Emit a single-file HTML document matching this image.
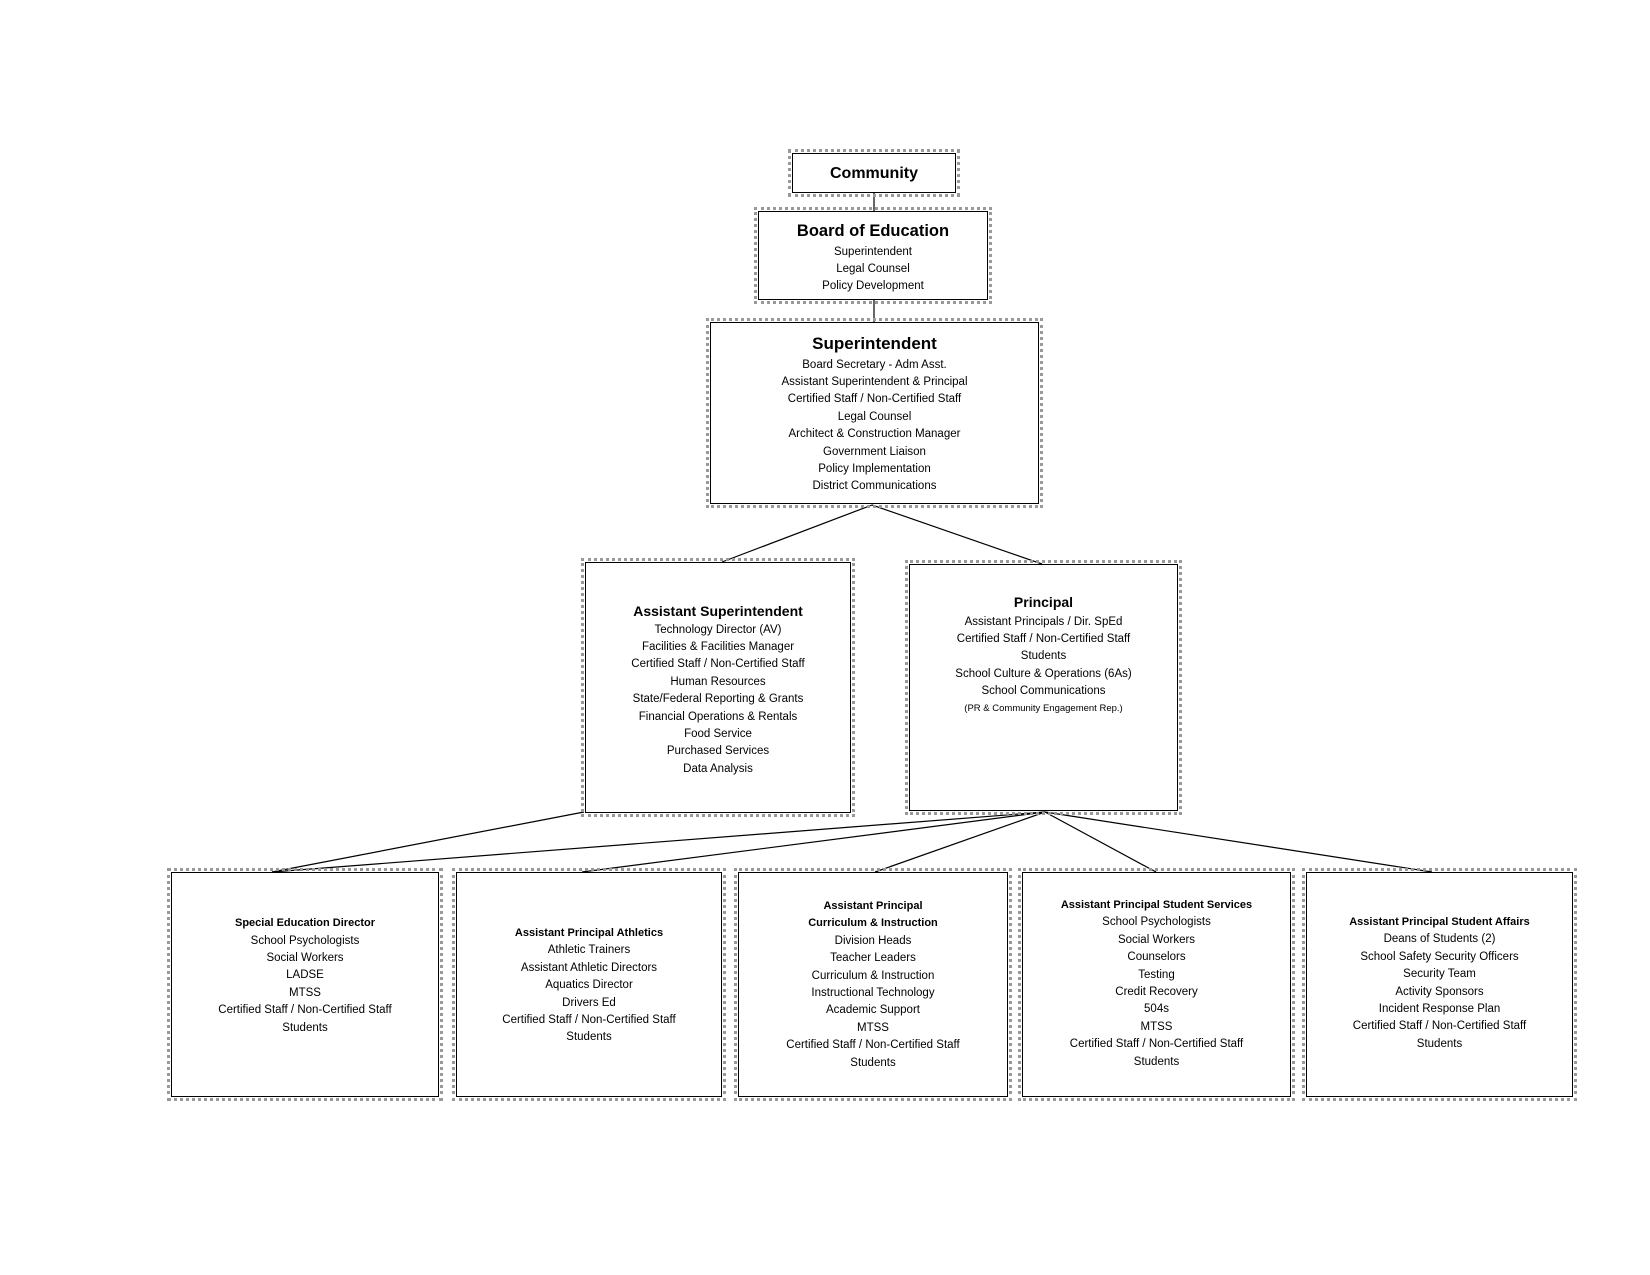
<!DOCTYPE html>
<html><head><meta charset="utf-8"><style>
html,body{margin:0;padding:0;background:#fff;}
body{width:1650px;height:1275px;position:relative;overflow:hidden;font-family:"Liberation Sans",sans-serif;color:#000;}
.b{position:absolute;border:1.5px solid #000;box-sizing:border-box;background:#fff;outline:3px dotted #999;outline-offset:1px;}
.t{position:absolute;text-align:center;font-size:11.5px;line-height:17.4px;white-space:nowrap;}
.t b{display:block;}
svg{position:absolute;left:0;top:0;}
</style></head><body>
<svg width="1650" height="1275">
<g stroke="#000" stroke-width="1.2" fill="none">
<line x1="874" y1="193" x2="874" y2="211"/>
<line x1="874" y1="300" x2="874" y2="322"/>
<line x1="872" y1="505" x2="722" y2="562"/>
<line x1="872" y1="505" x2="1042" y2="564"/>
<line x1="584" y1="812" x2="272" y2="872"/>
<line x1="1045" y1="812" x2="272" y2="872"/>
<line x1="1045" y1="812" x2="582" y2="872"/>
<line x1="1045" y1="812" x2="875" y2="872"/>
<line x1="1045" y1="812" x2="1156" y2="872"/>
<line x1="1045" y1="812" x2="1432" y2="872"/>
</g></svg>

<div class="b" style="left:792px;top:153px;width:164px;height:40px"></div>
<div class="b" style="left:758px;top:211px;width:230px;height:89px"></div>
<div class="b" style="left:710px;top:322px;width:329px;height:182px"></div>
<div class="b" style="left:585px;top:562px;width:266px;height:251px"></div>
<div class="b" style="left:909px;top:564px;width:269px;height:247px"></div>
<div class="b" style="left:171px;top:872px;width:268px;height:225px"></div>
<div class="b" style="left:456px;top:872px;width:266px;height:225px"></div>
<div class="b" style="left:738px;top:872px;width:270px;height:225px"></div>
<div class="b" style="left:1022px;top:872px;width:269px;height:225px"></div>
<div class="b" style="left:1306px;top:872px;width:267px;height:225px"></div>

<div class="t" style="left:792px;width:164px;top:162px;"><b style="font-size:16px;line-height:24px">Community</b></div>

<div class="t" style="left:758px;width:230px;top:219px;"><b style="font-size:16.5px;line-height:24.6px">Board of Education</b>Superintendent<br>Legal Counsel<br>Policy Development</div>

<div class="t" style="left:710px;width:329px;top:332px;"><b style="font-size:17px;line-height:24.6px">Superintendent</b>Board Secretary - Adm Asst.<br>Assistant Superintendent &amp; Principal<br>Certified Staff / Non-Certified Staff<br>Legal Counsel<br>Architect &amp; Construction Manager<br>Government Liaison<br>Policy Implementation<br>District Communications</div>

<div class="t" style="left:585px;width:266px;top:601px;"><b style="font-size:14px;line-height:20.6px">Assistant Superintendent</b>Technology Director (AV)<br>Facilities &amp; Facilities Manager<br>Certified Staff / Non-Certified Staff<br>Human Resources<br>State/Federal Reporting &amp; Grants<br>Financial Operations &amp; Rentals<br>Food Service<br>Purchased Services<br>Data Analysis</div>

<div class="t" style="left:909px;width:269px;top:591px;"><b style="font-size:14px;line-height:22.6px">Principal</b>Assistant Principals / Dir. SpEd<br>Certified Staff / Non-Certified Staff<br>Students<br>School Culture &amp; Operations (6As)<br>School Communications<br><span style="font-size:9.5px;line-height:15px;display:block">(PR &amp; Community Engagement Rep.)</span></div>

<div class="t" style="left:171px;width:268px;top:914px;"><b style="font-size:11px;line-height:18.6px">Special Education Director</b>School Psychologists<br>Social Workers<br>LADSE<br>MTSS<br>Certified Staff / Non-Certified Staff<br>Students</div>

<div class="t" style="left:456px;width:266px;top:924px;"><b style="font-size:11px;line-height:18.4px">Assistant Principal Athletics</b>Athletic Trainers<br>Assistant Athletic Directors<br>Aquatics Director<br>Drivers Ed<br>Certified Staff / Non-Certified Staff<br>Students</div>

<div class="t" style="left:738px;width:270px;top:898px;"><b style="font-size:11px">Assistant Principal</b><b style="font-size:11px">Curriculum &amp; Instruction</b>Division Heads<br>Teacher Leaders<br>Curriculum &amp; Instruction<br>Instructional Technology<br>Academic Support<br>MTSS<br>Certified Staff / Non-Certified Staff<br>Students</div>

<div class="t" style="left:1022px;width:269px;top:897px;"><b style="font-size:11px">Assistant Principal Student Services</b>School Psychologists<br>Social Workers<br>Counselors<br>Testing<br>Credit Recovery<br>504s<br>MTSS<br>Certified Staff / Non-Certified Staff<br>Students</div>

<div class="t" style="left:1306px;width:267px;top:914px;"><b style="font-size:11px">Assistant Principal Student Affairs</b>Deans of Students (2)<br>School Safety Security Officers<br>Security Team<br>Activity Sponsors<br>Incident Response Plan<br>Certified Staff / Non-Certified Staff<br>Students</div>
</body></html>
